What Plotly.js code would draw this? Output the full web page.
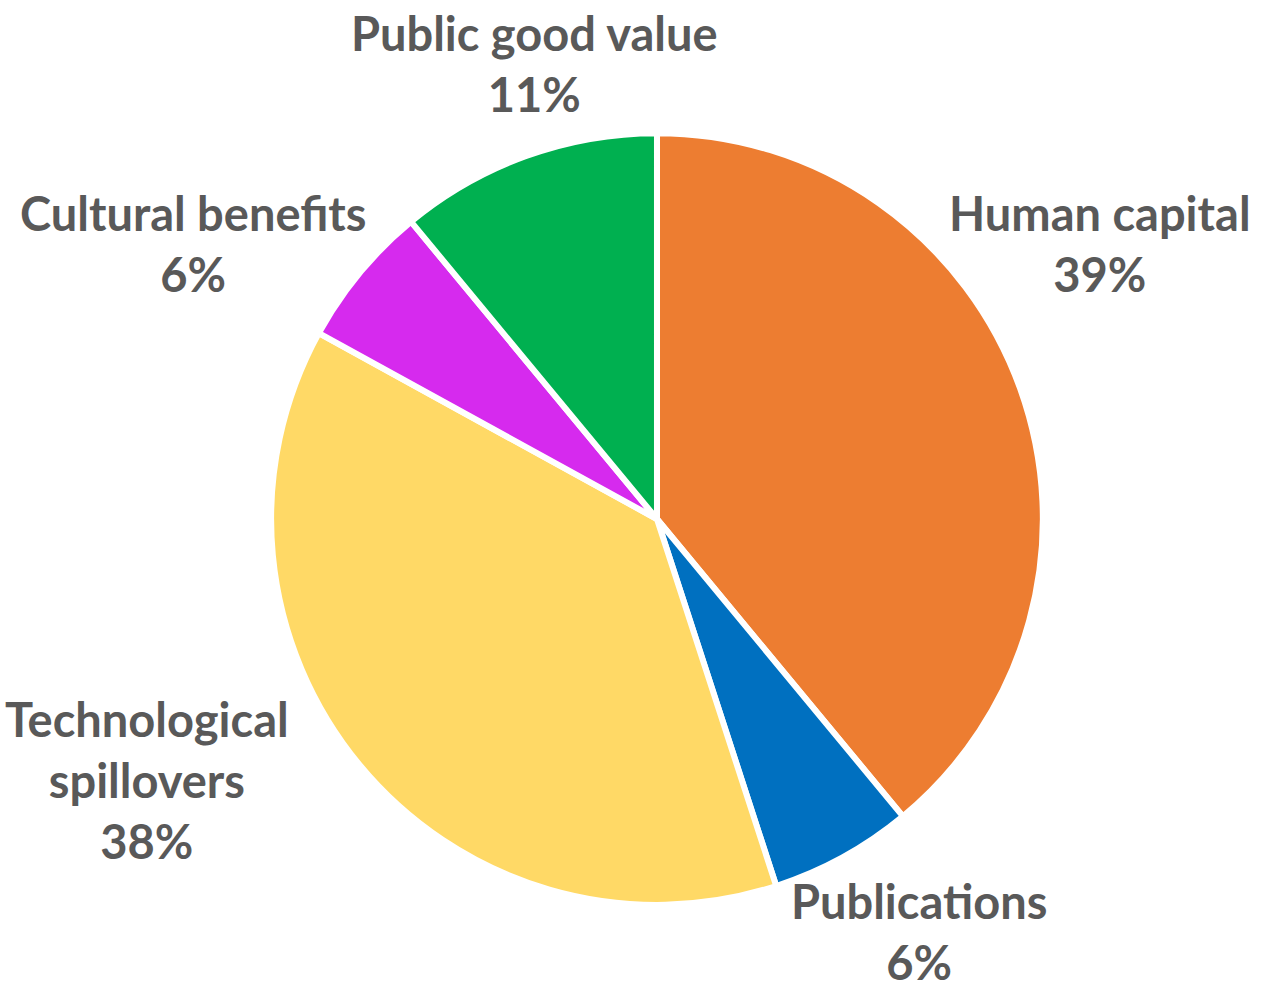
<!DOCTYPE html>
<html>
<head>
<meta charset="utf-8">
<script src="https://cdn.plot.ly/plotly-3.0.1.min.js"></script>
<style>html,body{margin:0;padding:0;background:#fff;}#chart{width:1261px;height:990px;}</style>
</head>
<body>
<div id="chart"></div>
<script>
const categories = ["Human capital", "Publications", "Technological<br>spillovers", "Cultural benefits", "Public good value"];
const shares = [39, 6, 38, 6, 11];
const sliceColors = ["#ED7D31", "#0070C0", "#FFD966", "#D62AEE", "#00B050"];

const W = 1261, H = 990;
const total = shares.reduce((a, b) => a + b, 0);

const trace = {
  type: "pie",
  labels: categories,
  values: shares,
  sort: false,
  direction: "clockwise",
  rotation: 0,
  marker: { colors: sliceColors, line: { color: "#ffffff", width: 6 } },
  textinfo: "none",
  automargin: false,
  showlegend: false,
  hoverinfo: "label+percent",
  domain: { x: [0.215, 0.827], y: [0.0859, 0.8656] }
};

// label placement (pixel centres, from top-left of the page)
const labelPlacement = [[1100, 243], [919, 931], [147, 780], [193, 243], [534, 64]];

const annotations = categories.map((c, i) => ({
  xref: "paper", yref: "paper",
  x: labelPlacement[i][0] / W,
  y: 1 - labelPlacement[i][1] / H,
  xanchor: "center", yanchor: "middle",
  showarrow: false,
  align: "center",
  text: c + "<br>" + Math.round(shares[i] / total * 100) + "%",
  font: { family: "Lato, 'Open Sans', sans-serif", size: 47, color: "#595959", weight: "bold" }
}));

const layout = {
  width: W,
  height: H,
  margin: { l: 0, r: 0, t: 0, b: 0 },
  paper_bgcolor: "#ffffff",
  showlegend: false,
  font: { family: "Lato, 'Open Sans', sans-serif", color: "#595959" },
  annotations: annotations
};

Plotly.newPlot("chart", [trace], layout, { displayModeBar: false, staticPlot: true });
</script>
</body>
</html>
